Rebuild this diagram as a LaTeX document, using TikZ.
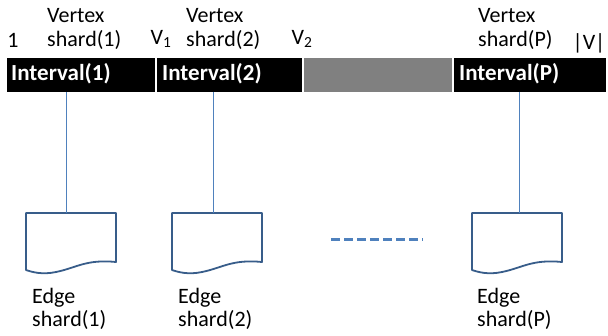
\documentclass[tikz,border=0pt]{standalone}
\usepackage{fontspec}
\setmainfont{Carlito}
\begin{document}
\begin{tikzpicture}[x=1pt,y=-1pt,
  lbl/.style={inner sep=0pt,font=\fontsize{22}{23.5}\selectfont,align=left},
  seg/.style={draw=white,line width=1pt},
  ivl/.style={inner sep=0pt,anchor=west,text=white,font=\fontsize{23}{24}\selectfont\bfseries},
  link/.style={draw={rgb,255:red,79;green,129;blue,189},line width=1pt},
  docshape/.style={draw={rgb,255:red,56;green,93;blue,138},line width=1.8pt,fill=white,line join=round}]
\useasboundingbox (0,0) rectangle (608,335);

% interval bar
\fill[black,seg] (6,57) rectangle (155,92);
\fill[black,seg] (156,57) rectangle (302,92);
\fill[seg,fill={rgb,255:red,128;green,128;blue,128}] (303,57) rectangle (452,92);
\fill[black,seg] (453,57) rectangle (606,92);
\node[ivl] (i1) at (11,74) {Interval(1)};
\node[ivl] (i2) at (162,74) {Interval(2)};
\node[ivl] (ip) at (459,74) {Interval(P)};

% boundaries and vertex shard labels
\node[lbl,anchor=center] (b0) at (13,40) {1};
\node[lbl,anchor=center] (b1) at (161,39) {V\textsubscript{1}};
\node[lbl,anchor=center] (b2) at (302,39) {V\textsubscript{2}};
\node[lbl,anchor=center] (bv) at (589,43) {|V|};
\node[lbl,anchor=west] (vs1) at (47,29) {Vertex\\shard(1)};
\node[lbl,anchor=west] (vs2) at (186,29) {Vertex\\shard(2)};
\node[lbl,anchor=west] (vsp) at (478,29) {Vertex\\shard(P)};

% edge shard documents
\coordinate (t1) at (66,92);
\coordinate (t2) at (213,92);
\coordinate (tp) at (519,92);
\foreach \n/\x in {1/26,2/172,p/472}{
  \draw[docshape] (\x,213) -- (\x+90,213) -- (\x+90,262)
    .. controls (\x+60,259) and (\x+50,268) .. (\x+30,272)
    .. controls (\x+16,275) and (\x+6,272) .. (\x,270) -- cycle;
}
\coordinate (d1) at (66,213);
\coordinate (d2) at (213,213);
\coordinate (dp) at (519,213);
\draw[link] (t1) -- (d1);
\draw[link] (t2) -- (d2);
\draw[link] (tp) -- (dp);

\coordinate (ga) at (331,239);
\coordinate (gb) at (423,239);
\draw[draw={rgb,255:red,79;green,129;blue,189},line width=3pt,dash pattern=on 9pt off 4pt] (ga) -- (gb);

\node[lbl,anchor=west] (es1) at (32,309) {Edge\\shard(1)};
\node[lbl,anchor=west] (es2) at (178,309) {Edge\\shard(2)};
\node[lbl,anchor=west] (esp) at (477,309) {Edge\\shard(P)};
\end{tikzpicture}
\end{document}
